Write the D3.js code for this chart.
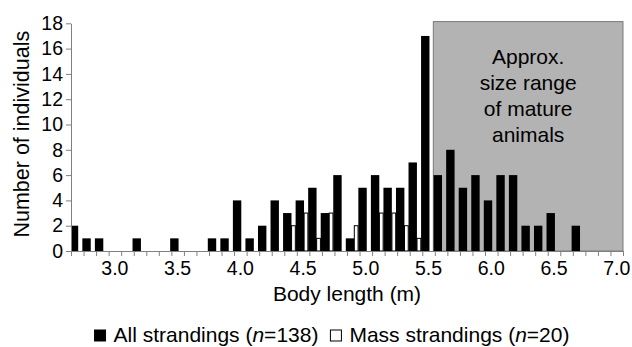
<!DOCTYPE html>
<html>
<head>
<meta charset="utf-8">
<script src="https://cdn.jsdelivr.net/npm/d3@7"></script>
<style>
  body { margin: 0; background: #fff; }
  svg { display: block; font-family: "Liberation Sans", Arial, sans-serif; }
  .axis text { font-size: 19.5px; fill: #000; font-family: "Liberation Sans", Arial, sans-serif; }
  .axis path, .axis line { stroke: #808080; }
</style>
</head>
<body>
<svg id="chart" width="632" height="347"></svg>
<script>
// body length classes (m), one bar each
var cats = ["2.7","2.8","2.9","3.0","3.1","3.2","3.3","3.4","3.5","3.6",
            "3.7","3.8","3.9","4.0","4.1","4.2","4.3","4.4","4.5","4.6",
            "4.7","4.8","4.9","5.0","5.1","5.2","5.3","5.4","5.5","5.6",
            "5.7","5.8","5.9","6.0","6.1","6.2","6.3","6.4","6.5","6.6",
            "6.7","6.8","6.9","7.0"];

var allStrandings  = [2,1,1,0,0,1,0,0,1,0,
                      0,1,1,4,1,2,4,3,4,5,
                      3,6,1,5,6,5,5,7,17,6,
                      8,5,6,4,6,6,2,2,3,0,
                      2,0,0,0];

var massStrandings = [0,0,0,0,0,0,0,0,0,0,
                      0,0,0,0,0,0,0,2,3,1,
                      3,0,2,0,3,3,2,1,0,0,
                      0,0,0,0,0,0,0,0,0,0,
                      0,0,0,0];

var xLabels = ["3.0","3.5","4.0","4.5","5.0","5.5","6.0","6.5","7.0"];
var yTicks  = [0,2,4,6,8,10,12,14,16,18];
var matureFrom = "5.6";
var boxLines = ["Approx.","size range","of mature","animals"];

var svg = d3.select("#chart");
var m = {left: 71, right: 623, top: 23.3, bottom: 251};

var x = d3.scaleBand().domain(cats).range([m.left, m.right]).padding(0);
var bw = x.bandwidth();
var y = d3.scaleLinear().domain([0, 18]).range([m.bottom, m.top]);

var data = cats.map(function(c, i) {
  return {cat: c, all: allStrandings[i], mass: massStrandings[i]};
});

svg.append("clipPath").attr("id", "plotClip")
  .append("rect")
    .attr("x", m.left).attr("y", 0)
    .attr("width", m.right - m.left).attr("height", m.bottom);

// shaded range of mature animals
var boxX = x(matureFrom) - 1.5;
svg.append("rect")
    .attr("x", boxX)
    .attr("y", y(18) - 1.7)
    .attr("width", m.right - boxX)
    .attr("height", m.bottom - y(18) + 1.7)
    .attr("fill", "#b3b3b3")
    .attr("stroke", "#7a7a7a")
    .attr("stroke-width", 1);

svg.append("text")
    .attr("text-anchor", "middle")
    .attr("font-size", 21)
  .selectAll("tspan")
  .data(boxLines)
  .enter().append("tspan")
    .attr("x", (boxX + m.right) / 2)
    .attr("y", function(d, i) { return 64 + i * 26; })
    .text(function(d) { return d; });

var g = svg.append("g").attr("clip-path", "url(#plotClip)");

// mass strandings, open bars right of the black ones
g.selectAll(".mass")
  .data(data.filter(function(d) { return d.mass > 0; }))
  .enter().append("rect")
    .attr("class", "mass")
    .attr("x", function(d) { return x(d.cat) + 7.3; })
    .attr("y", function(d) { return y(d.mass); })
    .attr("width", bw - 8.8)
    .attr("height", function(d) { return y(0) - y(d.mass); })
    .attr("fill", "#fff")
    .attr("stroke", "#000")
    .attr("stroke-width", 1);

// all strandings
g.selectAll(".all")
  .data(data.filter(function(d) { return d.all > 0; }))
  .enter().append("rect")
    .attr("class", "all")
    .attr("x", function(d) { return x(d.cat) - 1.2; })
    .attr("y", function(d) { return y(d.all); })
    .attr("width", 8.4)
    .attr("height", function(d) { return y(0) - y(d.all); })
    .attr("fill", "#000");

// y axis
svg.append("g")
    .attr("class", "axis axis--y")
    .attr("transform", "translate(" + m.left + ",0)")
    .call(d3.axisLeft(y).tickValues(yTicks).tickSize(5).tickPadding(3).tickSizeOuter(0));

// x axis: ticks on class boundaries, labels centred in the class
var xb = d3.scaleLinear().domain([0, cats.length]).range([m.left, m.right]);
svg.append("g")
    .attr("class", "axis axis--x")
    .attr("transform", "translate(0," + m.bottom + ")")
    .call(d3.axisBottom(xb).ticks(cats.length).tickSize(5).tickSizeOuter(0).tickFormat(""));

svg.append("g")
    .attr("class", "axis axis--xlab")
    .attr("transform", "translate(0," + m.bottom + ")")
    .call(d3.axisBottom(x).tickValues(xLabels).tickSize(0).tickPadding(10))
    .call(function(s) { s.select(".domain").remove(); });

// axis titles
svg.append("text")
    .attr("x", (m.left + m.right) / 2)
    .attr("y", 301)
    .attr("text-anchor", "middle")
    .attr("font-size", 21)
    .text("Body length (m)");

svg.append("text")
    .attr("transform", "translate(29," + ((m.top + m.bottom) / 2 - 3) + ") rotate(-90)")
    .attr("text-anchor", "middle")
    .attr("font-size", 21.5)
    .text("Number of individuals");

// legend
var leg = svg.append("g").attr("font-size", 21);
var legY = 342, sq = 11;
var items = [
  {pre: "All strandings (", n: "138", fill: "#000"},
  {pre: "Mass strandings (", n: "20", fill: "#fff"}
];
var parts = [];
items.forEach(function(it, i) {
  var gi = leg.append("g");
  gi.append("rect")
      .attr("x", 0).attr("y", -sq - 1)
      .attr("width", sq).attr("height", sq)
      .attr("fill", it.fill)
      .attr("stroke", "#000").attr("stroke-width", 1);
  var t = gi.append("text").attr("x", sq + 8);
  t.append("tspan").text(it.pre);
  t.append("tspan").attr("font-style", "italic").text("n");
  t.append("tspan").text("=" + it.n + ")");
  var w = sq + 8 + t.node().getComputedTextLength();
  parts.push({g: gi, w: w});
});
var gap = 12;
var total = parts[0].w + gap + parts[1].w;
var start = 332 - total / 2;
parts.forEach(function(p) {
  p.g.attr("transform", "translate(" + start + "," + legY + ")");
  start += p.w + gap;
});
</script>
</body>
</html>
